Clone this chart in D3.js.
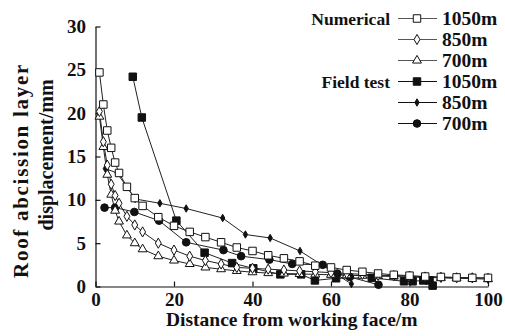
<!DOCTYPE html>
<html>
<head>
<meta charset="utf-8">
<script src="https://cdn.jsdelivr.net/npm/d3@7"></script>
<style>
  body { margin: 0; background: #fff; }
  text { font-family: "Liberation Serif", "Times New Roman", serif; font-weight: bold; fill: #111; }
</style>
</head>
<body>
<svg id="chart" width="505" height="336"></svg>
<script>
// numerical simulation, same stations for all three depths
const numX = [1, 2, 3, 4, 5, 6, 8, 10, 12, 16, 20, 24, 28, 32, 36, 40, 44, 48, 52, 56, 60, 64, 68, 72, 76, 80, 84, 88, 92, 96, 100];
const num1050 = [24.7, 21.0, 18.0, 16.0, 14.3, 13.1, 11.5, 10.2, 9.3, 8.0, 7.0, 6.3, 5.7, 5.1, 4.5, 4.1, 3.6, 3.25, 2.9, 2.4, 2.2, 1.9, 1.7, 1.5, 1.35, 1.25, 1.15, 1.1, 1.05, 1.0, 1.0];
const num850 = [20.2, 16.7, 14.0, 11.8, 10.5, 9.6, 8.1, 7.1, 6.3, 5.0, 4.2, 3.5, 3.0, 2.6, 2.2, 2.1, 2.0, 1.9, 1.8, 1.7, 1.6, 1.5, 1.4, 1.3, 1.25, 1.2, 1.1, 1.05, 1.0, 1.0, 0.95];
const num700 = [19.6, 16.1, 12.9, 10.6, 8.75, 7.5, 5.9, 5.0, 4.3, 3.5, 3.0, 2.6, 2.2, 2.0, 1.8, 1.65, 1.55, 1.5, 1.45, 1.4, 1.35, 1.3, 1.25, 1.2, 1.15, 1.1, 1.05, 1.0, 0.95, 0.9, 0.85];

// field test measurements
const field1050X = [9.5, 11.8, 20.6, 27.8, 34.8, 40.2, 47.1, 52.4, 55.9, 61.3, 70.4, 78.6, 80.8, 83.5, 85.1, 85.9];
const field1050Y = [24.2, 19.5, 7.6, 3.9, 2.7, 2.1, 1.4, 1.4, 0.7, 0.95, 1.0, 0.6, 0.6, 0.7, 0.7, 0.1];
const field850X = [2.5, 5.5, 10.1, 16.4, 23.1, 32.4, 38.2, 44.5, 52.1, 65.2];
const field850Y = [13.6, 13.1, 10.1, 9.6, 9.0, 7.9, 6.0, 5.6, 4.1, 0.3];
const field700X = [2.3, 5.0, 9.9, 16.2, 23.1, 32.6, 37.1, 44.3, 50.1, 57.9, 61.6, 64.8, 72.1];
const field700Y = [9.1, 9.1, 8.6, 7.6, 5.1, 4.2, 3.5, 3.1, 2.6, 2.5, 1.5, 1.1, 0.2];

const xTicks = [0, 20, 40, 60, 80, 100];
const yTicks = [0, 5, 10, 15, 20, 25, 30];

const series = [
  { group: 'Numerical', name: '1050m', xs: numX, ys: num1050, mark: 'square', filled: false },
  { group: '', name: '850m', xs: numX, ys: num850, mark: 'diamond', filled: false },
  { group: '', name: '700m', xs: numX, ys: num700, mark: 'triangle', filled: false },
  { group: 'Field test', name: '1050m', xs: field1050X, ys: field1050Y, mark: 'square', filled: true },
  { group: '', name: '850m', xs: field850X, ys: field850Y, mark: 'smalldiamond', filled: true },
  { group: '', name: '700m', xs: field700X, ys: field700Y, mark: 'circle', filled: true }
];

const serif = '"Liberation Serif", "Times New Roman", serif';
const margin = { top: 26.5, right: 17, bottom: 49.5, left: 95.5 };
const width = 505, height = 336;

const svg = d3.select('#chart');

const x = d3.scaleLinear().domain([0, 100]).range([margin.left, width - margin.right]);
const y = d3.scaleLinear().domain([0, 30]).range([height - margin.bottom, margin.top]);

const symbols = {
  square: d3.symbol().type(d3.symbolSquare).size(56),
  diamond: d3.symbol().type(d3.symbolDiamond).size(30),
  triangle: d3.symbol().type(d3.symbolTriangle).size(34),
  smalldiamond: d3.symbol().type(d3.symbolDiamond).size(16),
  circle: d3.symbol().type(d3.symbolCircle).size(46)
};

// X-axis
const xAxis = svg.append('g')
  .attr('transform', `translate(0,${y(0)})`)
  .attr('font-family', serif)
  .call(d3.axisBottom(x).tickValues(xTicks).tickSizeInner(-5).tickSizeOuter(0).tickPadding(6));
xAxis.attr('font-family', serif).attr('font-weight', 'bold');
xAxis.selectAll('text')
  .style('font-family', serif).style('font-weight', 'bold').style('font-size', '19px')
  .attr('dy', '0.71em');

// Y-axis
const yAxis = svg.append('g')
  .attr('transform', `translate(${x(0)},0)`)
  .call(d3.axisLeft(y).tickValues(yTicks).tickSizeInner(-5).tickSizeOuter(0).tickPadding(9.5));
yAxis.attr('font-family', serif).attr('font-weight', 'bold');
yAxis.selectAll('text')
  .style('font-family', serif).style('font-weight', 'bold').style('font-size', '19px');

svg.selectAll('.domain, .tick line').attr('stroke', '#111').attr('stroke-width', 1.2);

// axis titles
svg.append('text')
  .attr('x', (x(0) + x(100)) / 2)
  .attr('y', 325.5)
  .attr('text-anchor', 'middle')
  .style('font-size', '19.5px')
  .text('Distance from working face/m');

svg.append('text')
  .attr('transform', 'translate(28,170.5) rotate(-90)')
  .attr('text-anchor', 'middle')
  .style('font-size', '21px')
  .style('letter-spacing', '1.7px')
  .text('Roof abcission layer');
svg.append('text')
  .attr('transform', 'translate(53,155) rotate(-90)')
  .attr('text-anchor', 'middle')
  .style('font-size', '20px')
  .text('displacement/mm');

const line = d3.line().x(d => x(d[0])).y(d => y(d[1]));

series.forEach(s => {
  const pts = s.xs.map((v, i) => [v, s.ys[i]]);
  svg.append('path')
    .datum(pts)
    .attr('d', line)
    .attr('fill', 'none')
    .attr('stroke', '#222')
    .attr('stroke-width', 1);
});

// markers: field first, numerical on top
series.slice().reverse().forEach(s => {
  const pts = s.xs.map((v, i) => [v, s.ys[i]]);
  svg.append('g').selectAll('path')
    .data(pts)
    .enter()
    .append('path')
    .attr('transform', d => `translate(${x(d[0])},${y(d[1])})`)
    .attr('d', symbols[s.mark])
    .attr('fill', s.filled ? '#111' : '#fff')
    .attr('stroke', '#111')
    .attr('stroke-width', 1);
});

// legend
const legend = svg.append('g');
series.forEach((s, i) => {
  const ly = 18.5 + i * 21;
  if (s.group) {
    legend.append('text')
      .attr('x', 390).attr('y', ly).attr('dy', '0.35em')
      .attr('text-anchor', 'end')
      .style('font-size', '17.5px')
      .text(s.group);
  }
  legend.append('line')
    .attr('x1', 398).attr('x2', 437).attr('y1', ly).attr('y2', ly)
    .attr('stroke', s.filled ? '#111' : '#555').attr('stroke-width', 1);
  legend.append('path')
    .attr('transform', `translate(417,${ly})`)
    .attr('d', symbols[s.mark])
    .attr('fill', s.filled ? '#111' : '#fff')
    .attr('stroke', '#111').attr('stroke-width', 1);
  legend.append('text')
    .attr('x', 442).attr('y', ly).attr('dy', '0.35em')
    .style('font-size', '19.5px')
    .text(s.name);
});
</script>
</body>
</html>
